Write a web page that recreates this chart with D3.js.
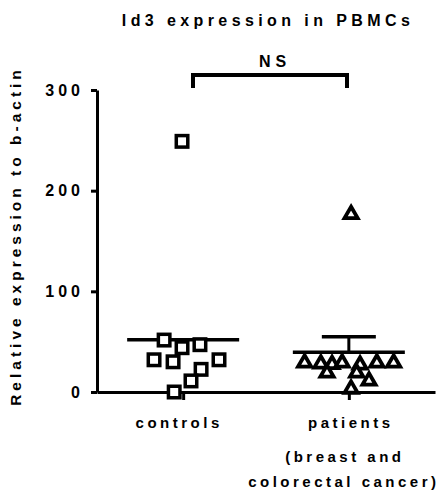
<!DOCTYPE html>
<html lang="en">
<head>
<meta charset="UTF-8">
<title>Id3 expression in PBMCs</title>
<style>
  body { margin: 0; background: #fff; }
  text { font-family: "Liberation Sans", Arial, sans-serif; font-weight: bold; fill: #000; }
</style>
</head>
<body>
<script src="https://d3js.org/d3.v7.min.js"></script>
<script>
var width = 444, height = 492;

// data
var groups = ["controls", "patients"];
var controlVals = [51.6, 44, 47, 32, 30, 32, 22.5, 11, 0, 249];
var controlJitter = [-0.34, -0.02, 0.30, -0.52, -0.18, 0.64, 0.32, 0.14, -0.16, -0.02];
var patientVals = [30, 29, 28.5, 30, 28, 30, 30, 20, 20, 12, 4, 177.5];
var patientJitter = [-0.79, -0.50, -0.30, -0.12, 0.20, 0.50, 0.80, -0.39, 0.14, 0.36, 0.04, 0.04];
var meanVals = [52, 39.5];
var errVals = [0, 15.5];   // upper bar, only the patients one shows
var yTicks = [0, 100, 200, 300];

var margin = {left: 97, right: 9, top: 90, bottom: 100};

var svg = d3.select("body").append("svg")
  .attr("width", width).attr("height", height);

var x = d3.scalePoint().domain(groups)
  .range([margin.left, width - margin.right]).padding(0.52);
var y = d3.scaleLinear().domain([0, 300])
  .range([height - margin.bottom, margin.top]);
var jit = d3.scaleLinear().domain([-1, 1]).range([-56, 56]);

// axes
var yAxis = svg.append("g")
  .attr("transform", "translate(" + margin.left + ",0)")
  .call(d3.axisLeft(y).tickValues(yTicks).tickSize(6).tickSizeOuter(0).tickPadding(7));
yAxis.select(".domain").attr("stroke-width", 3);
yAxis.selectAll(".tick line").attr("stroke-width", 3);
yAxis.selectAll(".tick text").style("font-size", "16px").style("letter-spacing", "4px")
  .attr("font-family", null).attr("fill", "#000");

var xAxis = svg.append("g")
  .attr("transform", "translate(0," + y(0) + ")")
  .call(d3.axisBottom(x).tickSize(8).tickSizeOuter(0).tickFormat(""));
xAxis.select(".domain").attr("stroke-width", 3);
xAxis.selectAll(".tick line").attr("stroke-width", 3);

// mean lines + error bars
groups.forEach(function(g, i) {
  var cx = x(g);
  if (errVals[i] > 0) {
    svg.append("line").attr("x1", cx).attr("x2", cx)
      .attr("y1", y(meanVals[i])).attr("y2", y(meanVals[i] + errVals[i]))
      .attr("stroke", "#000").attr("stroke-width", 3);
    svg.append("line").attr("x1", cx - 27).attr("x2", cx + 27)
      .attr("y1", y(meanVals[i] + errVals[i])).attr("y2", y(meanVals[i] + errVals[i]))
      .attr("stroke", "#000").attr("stroke-width", 3.5);
  }
  svg.append("line").attr("x1", cx - 56).attr("x2", cx + 56)
    .attr("y1", y(meanVals[i])).attr("y2", y(meanVals[i]))
    .attr("stroke", "#000").attr("stroke-width", 3.5);
});

// controls: open squares
svg.selectAll(".sq").data(controlVals).enter().append("rect")
  .attr("class", "sq")
  .attr("x", function(d, i) { return x("controls") + jit(controlJitter[i]) - 5.75; })
  .attr("y", function(d) { return y(d) - 5.75; })
  .attr("width", 11.5).attr("height", 11.5)
  .attr("fill", "#fff").attr("stroke", "#000").attr("stroke-width", 3.5);

// patients: open triangles
var tri = d3.symbol().type(d3.symbolTriangle).size(75);
svg.selectAll(".tri").data(patientVals).enter().append("path")
  .attr("class", "tri")
  .attr("d", tri)
  .attr("transform", function(d, i) {
    return "translate(" + (x("patients") + jit(patientJitter[i])) + "," + (y(d) + 1) + ")";
  })
  .attr("fill", "#fff").attr("stroke", "#000").attr("stroke-width", 3.8)
  .attr("stroke-linejoin", "miter");

// significance bracket
var bx1 = 193, bx2 = 347, by = 75;
svg.append("path")
  .attr("d", "M" + bx1 + "," + (by + 13) + "V" + by + "H" + bx2 + "V" + (by + 13))
  .attr("fill", "none").attr("stroke", "#000").attr("stroke-width", 4);
svg.append("text").attr("x", (bx1 + bx2) / 2 + 5).attr("y", 67)
  .attr("text-anchor", "middle").style("font-size", "16px").style("letter-spacing", "5px")
  .text("NS");

// title
svg.append("text").attr("x", 268).attr("y", 26)
  .attr("text-anchor", "middle").style("font-size", "16px").style("letter-spacing", "4.4px")
  .text("Id3 expression in PBMCs");

// y label
svg.append("text")
  .attr("transform", "translate(21," + 236 + ") rotate(-90)")
  .attr("text-anchor", "middle").style("font-size", "15.5px").style("letter-spacing", "4px")
  .text("Relative expression to b-actin");

// x labels
var xl = [
  {t: "controls", x: x("controls") - 4, y: 428},
  {t: "patients", x: x("patients") + 2, y: 428},
  {t: "(breast and", x: x("patients") - 4, y: 462},
  {t: "colorectal cancer)", x: x("patients") - 5, y: 487}
];
svg.selectAll(".xl").data(xl).enter().append("text")
  .attr("x", function(d) { return d.x; }).attr("y", function(d) { return d.y; })
  .attr("text-anchor", "middle").style("font-size", "15px").style("letter-spacing", "3.5px")
  .text(function(d) { return d.t; });
</script>
</body>
</html>
